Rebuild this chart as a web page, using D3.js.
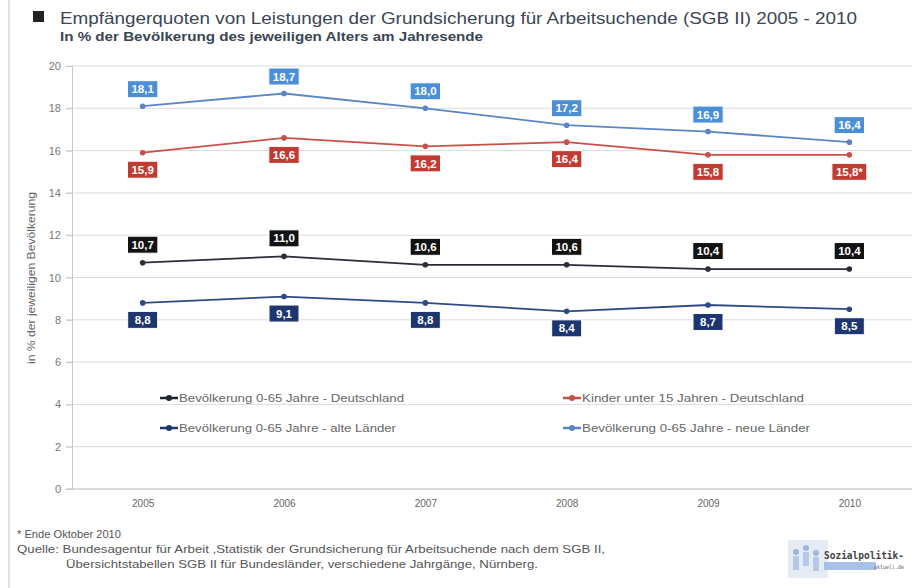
<!DOCTYPE html>
<html>
<head>
<meta charset="utf-8">
<script src="https://cdn.jsdelivr.net/npm/d3@7"></script>
<style>
  body { margin: 0; background: #fff; }
  svg { display: block; }
</style>
</head>
<body>
<div id="chart"></div>
<script>
// data
var years = ["2005", "2006", "2007", "2008", "2009", "2010"];
var neueLaender = [18.1, 18.7, 18.0, 17.2, 16.9, 16.4];
var kinder = [15.9, 16.6, 16.2, 16.4, 15.8, 15.8];
var deutschland = [10.7, 11.0, 10.6, 10.6, 10.4, 10.4];
var alteLaender = [8.8, 9.1, 8.8, 8.4, 8.7, 8.5];
var yTicks = [0, 2, 4, 6, 8, 10, 12, 14, 16, 18, 20];

var seriesNames = [
  "Bevölkerung 0-65 Jahre - Deutschland",
  "Kinder unter 15 Jahren - Deutschland",
  "Bevölkerung 0-65 Jahre - alte Länder",
  "Bevölkerung 0-65 Jahre - neue Länder"
];

var width = 915, height = 588;
var sans = "'Liberation Sans', Arial, sans-serif";

var svg = d3.select('#chart').append('svg')
  .attr('width', width)
  .attr('height', height);

// the source picture is stretched a bit wide, so texts get a fixed length
function fit(sel, w) {
  sel.attr('textLength', w).attr('lengthAdjust', 'spacingAndGlyphs');
  return sel;
}

// image border line on the left
svg.append('line')
  .attr('x1', 9).attr('x2', 9).attr('y1', 0).attr('y2', height)
  .attr('stroke', '#d8d8d8').attr('stroke-width', 1.5);

// title
svg.append('rect').attr('x', 33).attr('y', 11).attr('width', 11).attr('height', 11).attr('fill', '#222');
fit(svg.append('text')
  .attr('x', 60).attr('y', 24)
  .attr('font-family', sans)
  .attr('font-size', 16)
  .attr('fill', '#3b4654')
  .text('Empfängerquoten von Leistungen der Grundsicherung für Arbeitsuchende (SGB II) 2005 - 2010'), 797);
fit(svg.append('text')
  .attr('x', 60).attr('y', 41)
  .attr('font-family', sans)
  .attr('font-size', 12)
  .attr('font-weight', 'bold')
  .attr('fill', '#3b4654')
  .text('In % der Bevölkerung des jeweiligen Alters am Jahresende'), 423);

// scales
var x = d3.scalePoint().domain(years).range([72, 920]).padding(0.5);
var y = d3.scaleLinear().domain([0, 20]).range([489, 66]);

// grid
svg.append('g').selectAll('line').data(yTicks).enter().append('line')
  .attr('x1', 66).attr('x2', 912)
  .attr('y1', d => y(d)).attr('y2', d => y(d))
  .attr('stroke', '#dcdcdc').attr('stroke-width', 1);

// y axis
var yAxis = svg.append('g')
  .attr('transform', 'translate(72,0)')
  .call(d3.axisLeft(y).tickValues(yTicks).tickSize(6).tickFormat(d3.format('d')));
yAxis.select('.domain').attr('stroke', '#c8c8c8');
yAxis.selectAll('.tick line').attr('stroke', '#c8c8c8');
yAxis.selectAll('.tick text')
  .attr('font-family', sans).attr('font-size', 11).attr('fill', '#777').attr('x', -11);

fit(svg.append('text')
  .attr('transform', 'translate(35,' + 278 + ') rotate(-90)')
  .attr('text-anchor', 'middle')
  .attr('font-family', sans).attr('font-size', 10).attr('fill', '#666')
  .text('in % der jeweiligen Bevölkerung'), 172);

// x axis
var xAxis = svg.append('g')
  .attr('transform', 'translate(0,489)')
  .call(d3.axisBottom(x).tickSize(0).tickPadding(11));
xAxis.select('.domain').attr('stroke', '#c8c8c8').attr('d', 'M66,0H912');
xAxis.selectAll('.tick text')
  .attr('font-family', sans).attr('font-size', 10).attr('fill', '#666');

// series
var series = [
  { name: seriesNames[3], values: neueLaender, line: '#5a86c4', box: '#4b8fd6', dy: -17, labels: null },
  { name: seriesNames[1], values: kinder, line: '#c9504a', box: '#c23b33', dy: 17, labels: ["15,9", "16,6", "16,2", "16,4", "15,8", "15,8*"] },
  { name: seriesNames[0], values: deutschland, line: '#2a2d3a', box: '#121212', dy: -18, labels: null },
  { name: seriesNames[2], values: alteLaender, line: '#2e4a86', box: '#1d3670', dy: 17, labels: null }
];

var fmt = v => d3.format('.1f')(v).replace('.', ',');
var line = d3.line().x((d, i) => x(years[i])).y(d => y(d));

series.forEach(s => {
  var g = svg.append('g');
  g.append('path')
    .attr('d', line(s.values))
    .attr('fill', 'none')
    .attr('stroke', s.line)
    .attr('stroke-width', 1.8);
  g.selectAll('circle').data(s.values).enter().append('circle')
    .attr('cx', (d, i) => x(years[i]))
    .attr('cy', d => y(d))
    .attr('r', 2.8)
    .attr('fill', s.line);

  var lab = g.selectAll('g.lab').data(s.values).enter().append('g')
    .attr('class', 'lab')
    .attr('transform', (d, i) => 'translate(' + x(years[i]) + ',' + (y(d) + s.dy) + ')');
  lab.append('text')
    .attr('text-anchor', 'middle')
    .attr('dy', '0.36em')
    .attr('font-family', sans)
    .attr('font-size', 11.5)
    .attr('font-weight', 'bold')
    .attr('fill', '#fff')
    .text((d, i) => s.labels ? s.labels[i] : fmt(d));
  lab.each(function () {
    var t = d3.select(this).select('text');
    var w = Math.max(30, t.node().getComputedTextLength() + 8);
    d3.select(this).insert('rect', 'text')
      .attr('x', -w / 2).attr('y', -8.5)
      .attr('width', w).attr('height', 17)
      .attr('fill', s.box)
      .attr('stroke', '#fff').attr('stroke-width', 1);
  });
});

// legend
var legendItems = [
  { name: seriesNames[0], color: '#1f2433', x: 160, y: 398, w: 225 },
  { name: seriesNames[1], color: '#c9504a', x: 563, y: 398, w: 222 },
  { name: seriesNames[2], color: '#1d3670', x: 160, y: 428, w: 217 },
  { name: seriesNames[3], color: '#5a86c4', x: 563, y: 428, w: 228 }
];
var leg = svg.append('g').selectAll('g').data(legendItems).enter().append('g')
  .attr('transform', d => 'translate(' + d.x + ',' + d.y + ')');
leg.append('line')
  .attr('x1', 0).attr('x2', 18)
  .attr('stroke', d => d.color).attr('stroke-width', 2.5);
leg.append('circle').attr('cx', 9).attr('r', 3).attr('fill', d => d.color);
leg.append('text')
  .attr('x', 19).attr('dy', '0.35em')
  .attr('font-family', sans).attr('font-size', 11).attr('fill', '#666')
  .attr('textLength', d => d.w).attr('lengthAdjust', 'spacingAndGlyphs')
  .text(d => d.name);

// footnotes
var foot = svg.append('g')
  .attr('font-family', sans).attr('font-size', 11).attr('fill', '#555');
fit(foot.append('text').attr('x', 17).attr('y', 538).text('* Ende Oktober 2010'), 104);
fit(foot.append('text').attr('x', 17).attr('y', 553)
  .text('Quelle: Bundesagentur für Arbeit ,Statistik der Grundsicherung für Arbeitsuchende nach dem SGB II,'), 588);
fit(foot.append('text').attr('x', 66).attr('y', 568)
  .text('Übersichtstabellen SGB II für Bundesländer, verschiedene Jahrgänge,  Nürnberg.'), 472);

// logo (rough stand-in for the little picture)
var logo = svg.append('g');
logo.append('rect').attr('x', 788).attr('y', 540).attr('width', 40).attr('height', 38).attr('fill', '#e6ecf6');
[[796, 552], [806, 548], [816, 553]].forEach(p => {
  logo.append('circle').attr('cx', p[0]).attr('cy', p[1]).attr('r', 3).attr('fill', '#9fb6da');
  logo.append('rect').attr('x', p[0] - 3).attr('y', p[1] + 4).attr('width', 6).attr('height', 14).attr('fill', '#b7c8e4');
});
logo.append('rect').attr('x', 824).attr('y', 562).attr('width', 52).attr('height', 8).attr('fill', '#a9c1e6');
fit(logo.append('text').attr('x', 824).attr('y', 559)
  .attr('font-family', 'DejaVu Sans Mono, monospace').attr('font-size', 10).attr('font-weight', 'bold')
  .attr('fill', '#444').text('Sozialpolitik-'), 80);
fit(logo.append('text').attr('x', 874).attr('y', 569)
  .attr('font-family', 'DejaVu Sans Mono, monospace').attr('font-size', 6)
  .attr('fill', '#667').text('aktuell.de'), 30);
</script>
</body>
</html>
